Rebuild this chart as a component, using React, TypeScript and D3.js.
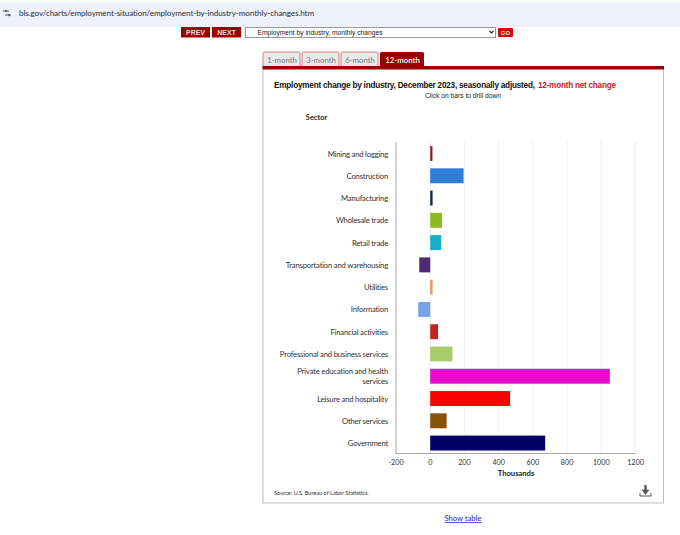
import React from "react";
import * as d3 from "d3";

const sectors = ["Mining and logging","Construction","Manufacturing","Wholesale trade","Retail trade","Transportation and warehousing","Utilities","Information","Financial activities","Professional and business services","Private education and health services","Leisure and hospitality","Other services","Government"];
const changes = [13,195,14,69,64,-64,14,-70,46,130,1050,467,96,672];
const barColors = ["#8f1d21","#2e7dd9","#14284b","#8cbb1d","#18aecb","#4b2a78","#e89a5a","#76a3e8","#c42127","#a8cc6c","#e60dc8","#ff0000","#8a5208","#000066"];
const xTicks = [-200,0,200,400,600,800,1000,1200];
const tabs = ["1-month","3-month","6-month"];
const urlText = "bls.gov/charts/employment-situation/employment-by-industry-monthly-changes.htm";
const selectText = "Employment by industry, monthly changes";

const sans = "'Liberation Sans', Arial, sans-serif";
const label = "Lato, 'Open Sans', sans-serif";

function wrap(s: string): string[] {
  return s === "Private education and health services" ? ["Private education and health", "services"] : [s];
}

export default function App() {
  const x = d3.scaleLinear().domain([-200, 1200]).range([396, 635.5]);
  const y = d3.scaleBand<string>().domain(sectors).range([142.4, 454.2]).paddingInner(0.33).paddingOuter(0.165);
  return (
    <svg width={680} height={535} style={{ position: "absolute", left: 0, top: 0, background: "#fff" }}>
      <rect x={0} y={2} width={680} height={25} fill="#eef1f9" />
      <text x={19} y={16} fontFamily={label} fontSize={8.1} letterSpacing={-0.09} fill="#2b2f36">{urlText}</text>
      <g fill="#5b6068">
        <circle cx={6} cy={11} r={1.2} /><circle cx={9} cy={15} r={1.2} />
        <rect x={3} y={10.5} width={6} height={1} /><rect x={5} y={14.5} width={6} height={1} />
      </g>

      <rect x={181} y={27} width={29} height={10.5} fill="#990000" />
      <text x={195.5} y={35} textAnchor="middle" fontFamily={sans} fontWeight="bold" fontSize={7} fill="#f3dcdc">PREV</text>
      <rect x={212} y={27} width={29} height={10.5} fill="#990000" />
      <text x={226.5} y={35} textAnchor="middle" fontFamily={sans} fontWeight="bold" fontSize={7} fill="#f3dcdc">NEXT</text>
      <rect x={245.5} y={27.5} width={250} height={10} fill="#fff" stroke="#9a9a9a" />
      <text x={257.5} y={35.3} fontFamily={sans} fontSize={7} textLength={125} lengthAdjust="spacingAndGlyphs" fill="#222">{selectText}</text>
      <path d="M489.5 31 l2 2 l2 -2" fill="none" stroke="#222" strokeWidth={1.1} />
      <rect x={498} y={28} width={15} height={9} rx={1} fill="#cc0b0b" />
      <text x={505.5} y={35} textAnchor="middle" fontFamily={sans} fontWeight="bold" fontSize={6} fill="#f6dddd">GO</text>

      {tabs.map((t, i) => (
        <g key={t}>
          <path d={`M${263 + i * 39} 66.5 v-13 q0 -1.5 1.5 -1.5 h${34} q1.5 0 1.5 1.5 v13`} fill="#e9e9e9" stroke="#c66" strokeWidth={0.8} />
          <text x={282 + i * 39} y={62.5} textAnchor="middle" fontFamily={label} fontSize={7.8} fill="#777">{t}</text>
        </g>
      ))}
      <path d="M380 67 v-13.5 q0 -1.5 1.5 -1.5 h41 q1.5 0 1.5 1.5 v13.5 z" fill="#990000" />
      <text x={402.5} y={62.5} textAnchor="middle" fontFamily={label} fontWeight="bold" fontSize={7.8} fill="#f5e6e6">12-month</text>

      <rect x={263} y={68} width={400.5} height={435} fill="#fff" stroke="#bdbdbd" />
      <rect x={262.5} y={66} width={401.5} height={3.5} fill="#990000" />

      <text x={274} y={88} fontFamily={sans} fontWeight="bold" fontSize={8.2} textLength={261} lengthAdjust="spacing" fill="#111">Employment change by industry, December 2023, seasonally adjusted,</text>
      <text x={538} y={88} fontFamily={sans} fontWeight="bold" fontSize={8.2} textLength={78} lengthAdjust="spacing" fill="#c8202a">12-month net change</text>
      <text x={463} y={98} textAnchor="middle" fontFamily={sans} fontSize={6.7} fill="#222">Click on bars to drill down</text>
      <text x={316.5} y={120} textAnchor="middle" fontFamily={label} fontWeight="bold" fontSize={7.4} fill="#222">Sector</text>

      {xTicks.slice(1).map((t) => (
        <line key={t} x1={x(t)} x2={x(t)} y1={142} y2={453} stroke="#e6e6e6" strokeWidth={0.8} strokeDasharray={t === 0 ? undefined : "3 1"} />
      ))}
      {sectors.map((s, i) => (
        <rect key={s} x={x(Math.min(0, changes[i]))} y={y(s)} width={Math.abs(x(changes[i]) - x(0))} height={y.bandwidth()} fill={barColors[i]} />
      ))}
      <line x1={396} x2={396} y1={142} y2={453.5} stroke="#a9a9a9" strokeWidth={1} />
      <line x1={396} x2={635.5} y1={453.5} y2={453.5} stroke="#a9a9a9" strokeWidth={1} />

      {sectors.map((s) => {
        const lines = wrap(s);
        const c = (y(s) as number) + y.bandwidth() / 2;
        return lines.map((l, j) => (
          <text key={l} x={388} y={lines.length === 1 ? c + 3 : c - 2.2 + j * 9.6} textAnchor="end" fontFamily={label} fontSize={7.7} letterSpacing={-0.2} fill="#333">{l}</text>
        ));
      })}
      {xTicks.map((t) => (
        <text key={t} x={x(t)} y={464.5} textAnchor="middle" fontFamily={label} fontSize={7.2} fill="#333">{t}</text>
      ))}
      <text x={516} y={476} textAnchor="middle" fontFamily={label} fontWeight="bold" fontSize={7.6} fill="#222">Thousands</text>
      <text x={274} y={495} fontFamily={label} fontSize={5.6} fill="#333">Source: U.S. Bureau of Labor Statistics.</text>

      <g stroke="#555" fill="none">
        <path d="M645.5 485 v8" strokeWidth={2.4} />
        <path d="M642 490 h7 l-3.5 4.5 z" fill="#555" strokeWidth={0.6} />
        <path d="M640 493 v3 h11 v-3" strokeWidth={1} />
      </g>
      <text x={463} y={521} textAnchor="middle" fontFamily={label} fontSize={7.6} fill="#2222cc" textDecoration="underline">Show table</text>
    </svg>
  );
}
